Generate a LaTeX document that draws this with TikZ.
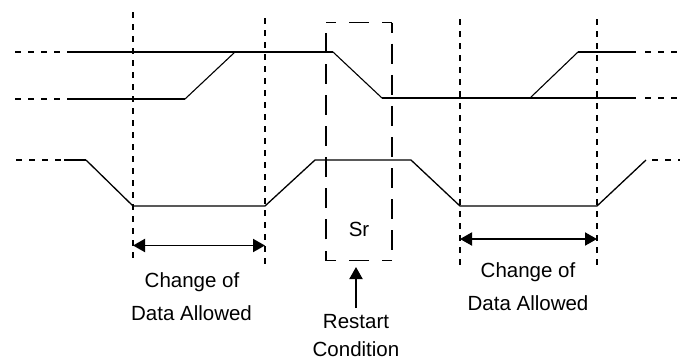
\documentclass[tikz,border=0pt]{standalone}
\usepackage{fontspec}
\setmainfont{Liberation Sans}
\usetikzlibrary{arrows.meta}
\begin{document}
\begin{tikzpicture}[x=1pt,y=-1pt,
  sig/.style={line width=1.9pt},
  edgeline/.style={line width=1.1pt},
  ext/.style={line width=1.9pt, dash pattern=on 6pt off 7pt},
  gridline/.style={line width=1.8pt, dash pattern=on 6pt off 6pt},
  boxv/.style={line width=1.9pt, dash pattern=on 20pt off 11.14pt, dash phase=10pt},
  boxh/.style={line width=1.9pt, dash pattern=on 20pt off 13pt, dash phase=10pt},
  lbl/.style={font=\fontsize{20.5}{24}\selectfont, anchor=base, inner sep=0pt},
  dbl/.style={line width=1.9pt, {Triangle[length=12pt,width=13pt]}-{Triangle[length=12pt,width=13pt]}},
]
\useasboundingbox (0,0) rectangle (680,360);
% upper signal pair
\draw[ext] (15,52) -- (72,52);
\draw[sig] (72,52) -- (333,52);
\draw[edgeline] (333,52) -- (382,98);
\draw[line width=1.4pt] (382,98) -- (636,98);
\draw[ext] (15,99) -- (72,99);
\draw[sig] (72,99) -- (185,99);
\draw[edgeline] (185,99) -- (235,52);
\draw[edgeline] (530,98) -- (578,52);
\draw[sig] (578,52) -- (636,52);
\draw[ext] (645,52) -- (680,52);
\draw[ext] (645,98) -- (680,98);
% lower signal
\draw[ext] (16,160) -- (62,160);
\draw[sig] (64,160) -- (86,160);
\draw[line width=1.3pt, line join=miter] (86,160) -- (133,206) -- (265,206) -- (315,160) -- (411,160) -- (460,206) -- (597,206) -- (646,160);
\draw[ext] (652,160) -- (680,160);
% vertical markers
\draw[gridline] (133,12) -- (133,262);
\draw[gridline] (265,18) -- (265,268);
\draw[gridline] (460,19) -- (460,269);
\draw[gridline] (597,19) -- (597,269);
% restart box
\coordinate (b1) at (326,22.5);
\coordinate (b2) at (392,22.5);
\coordinate (b3) at (392,260.5);
\coordinate (b4) at (326,260.5);
\draw[boxh] (b1) -- (b2);
\draw[boxv] (b2) -- (b3);
\draw[boxh] (b3) -- (b4);
\draw[boxv] (b4) -- (b1);
\node[lbl] (sr) at (359,236) {Sr};
\node[lbl] (restart) at (356,328) {Restart};
\node[lbl] (cond) at (356,356.7) {Condition};
\coordinate (rtail) at (356,308);
\coordinate (rhead) at (356,267);
\draw[line width=1.9pt, -{Triangle[length=12pt,width=13pt]}] (rtail) -- (rhead);
% change-of-data arrows
\coordinate (la) at (133,245.5);
\coordinate (lb) at (265,245.5);
\coordinate (ra) at (460,239);
\coordinate (rb) at (597,239);
\draw[dbl] (la) -- (lb);
\draw[dbl] (ra) -- (rb);
\node[lbl] (lc1) at (192,287) {Change of};
\node[lbl] (lc2) at (191.5,320) {Data Allowed};
\node[lbl] (rc1) at (528,277) {Change of};
\node[lbl] (rc2) at (528,310) {Data Allowed};
\end{tikzpicture}
\end{document}
